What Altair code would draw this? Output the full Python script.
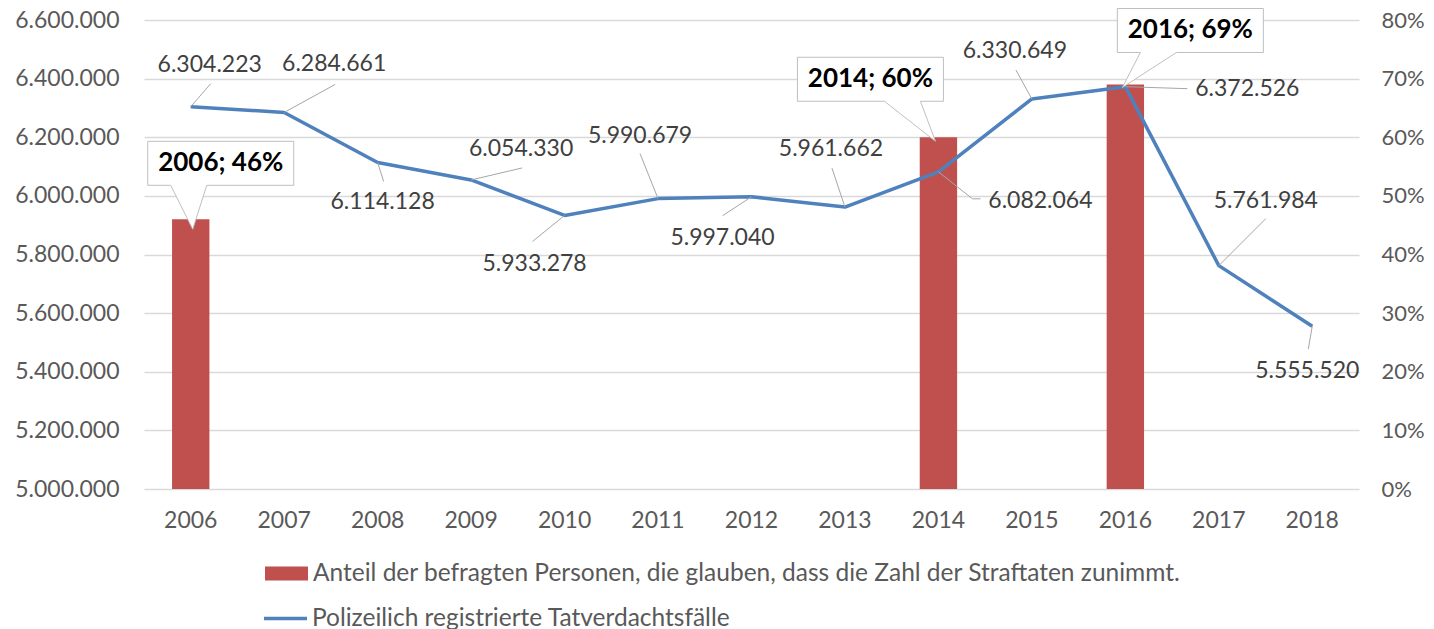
import altair as alt
import pandas as pd

# ---------------- data ----------------
years = [2006, 2007, 2008, 2009, 2010, 2011, 2012, 2013, 2014, 2015, 2016, 2017, 2018]
cases = [6304223, 6284661, 6114128, 6054330, 5933278, 5990679, 5997040,
         5961662, 6082064, 6330649, 6372526, 5761984, 5555520]
survey_years = [2006, 2014, 2016]
survey_share = [0.46, 0.60, 0.69]
bar_name = "Anteil der befragten Personen, die glauben, dass die Zahl der Straftaten zunimmt."
line_name = "Polizeilich registrierte Tatverdachtsfälle"

# ---------------- layout (pixel offsets of the callouts) ----------------
label_dx = [19, 50, 5, 50, -30, -18, -29, -14, 102, -17, 122, 47, -5]
label_dy = [-42, -48, 40, -31, 49, -63, 41, -58, 29, -48, 2, -65, 45]
leader_paths = ["M0,0L20,-23", "M0,0L51,-28", "M0,0L6,19", "M0,0L51,-12",
                "M0,0L-32,26", "M0,0L-18,-45", "M0,0L-29,19", "M0,0L-13,-39",
                "M0,0L34,27L42,27", "M0,0L-16,-29", "M0,0L62,2", "M0,0L47,-47",
                "M0,0L-4,23"]
tip_dx = [2, -3, -3]
tip_dy = [10, 4, 3]
box_dx = [28, -65, 68]
box_dy = [-66, -62, -57]
BOX_W, BOX_H = 146, 44

FONT = "Lato"
AXIS_GRAY = "#595959"
LABEL_GRAY = "#404040"
BAR_RED = "#C0504D"
LINE_BLUE = "#4F81BD"


def callout_path(tx, ty, bx, by, w, h):
    l, r, t, b = tx + bx - w / 2, tx + bx + w / 2, ty + by - h / 2, ty + by + h / 2
    wc = tx + (bx - 32 if bx > 0 else bx + 32)
    wl, wr = wc - 18, wc + 18
    return f"M{l},{t}H{r}V{b}H{wr}L{tx},{ty}L{wl},{b}H{l}Z"


line_df = pd.DataFrame({
    "year": years,
    "cases": cases,
    "series": line_name,
    "dx": label_dx,
    "dy": label_dy,
    "leader": leader_paths,
})
bar_df = pd.DataFrame({
    "year": survey_years,
    "share": survey_share,
    "series": bar_name,
    "box": [callout_path(tip_dx[i], tip_dy[i], box_dx[i], box_dy[i], BOX_W, BOX_H)
            for i in range(len(survey_years))],
    "tdx": [tip_dx[i] + box_dx[i] for i in range(len(survey_years))],
    "tdy": [tip_dy[i] + box_dy[i] for i in range(len(survey_years))],
})

x_enc = alt.X(
    "year:O",
    title=None,
    scale=alt.Scale(domain=years, paddingInner=0.6, paddingOuter=0.3),
    axis=alt.Axis(labelAngle=0, domain=False, ticks=False, labelPadding=20,
                  labelFontSize=23, labelFont=FONT, labelColor=AXIS_GRAY),
)

share_scale = alt.Scale(domain=[0, 0.8], nice=False)
cases_scale = alt.Scale(domain=[5000000, 6600000], nice=False, zero=False)

bars = alt.Chart(bar_df).mark_bar().encode(
    x=x_enc,
    y=alt.Y("share:Q", scale=share_scale, title=None,
            axis=alt.Axis(orient="right", format="%", values=[i / 10 for i in range(9)],
                          grid=False, domain=False, ticks=False, labelPadding=22,
                          labelFontSize=22, labelFont=FONT, labelColor=AXIS_GRAY)),
    fill=alt.Fill("series:N", scale=alt.Scale(range=[BAR_RED]),
                  legend=alt.Legend(title=None, orient="none", legendX=121, legendY=532,
                                    symbolType="M-1,-0.33H1V0.33H-1Z", symbolSize=1849,
                                    symbolStrokeWidth=0, labelFontSize=24.5, labelFont=FONT,
                                    labelColor=AXIS_GRAY, labelLimit=1500, labelOffset=5)),
)

line = alt.Chart(line_df).mark_line(strokeWidth=3.5, strokeJoin="round").encode(
    x=x_enc,
    y=alt.Y("cases:Q", scale=cases_scale, title=None,
            axis=alt.Axis(orient="left", values=list(range(5000000, 6600001, 200000)),
                          labelExpr="replace(format(datum.value, ','), regexp(',', 'g'), '.')",
                          grid=True, gridColor="#d9d9d9", gridWidth=1.3,
                          domain=False, ticks=False, labelPadding=25,
                          labelFontSize=23, labelFont=FONT, labelColor=AXIS_GRAY)),
    stroke=alt.Stroke("series:N", scale=alt.Scale(range=[LINE_BLUE]),
                      legend=alt.Legend(title=None, orient="none", legendX=118, legendY=575,
                                        symbolType="stroke", symbolSize=1849,
                                        symbolStrokeWidth=3.5, labelFontSize=24.5, labelFont=FONT,
                                        labelColor=AXIS_GRAY, labelLimit=1500, labelOffset=3)),
)

leaders = alt.Chart(line_df).mark_point(
    filled=False, size=4, stroke="#a6a6a6", strokeWidth=1, opacity=1
).encode(
    x=x_enc,
    y=alt.Y("cases:Q", scale=cases_scale, axis=None),
    shape=alt.Shape("leader:N", scale=None),
)

line_labels = alt.Chart(line_df).transform_calculate(
    label="replace(format(datum.cases, ','), regexp(',', 'g'), '.')"
).mark_text(
    font=FONT, fontSize=23, color=LABEL_GRAY, align="center", baseline="middle",
    dx=alt.ExprRef(expr="datum.dx"), dy=alt.ExprRef(expr="datum.dy"),
).encode(
    x=x_enc,
    y=alt.Y("cases:Q", scale=cases_scale, axis=None),
    text="label:N",
)

boxes = alt.Chart(bar_df).mark_point(
    filled=True, size=4, fill="white", stroke="#bfbfbf", strokeWidth=1, opacity=1
).encode(
    x=x_enc,
    y=alt.Y("share:Q", scale=share_scale, axis=None),
    shape=alt.Shape("box:N", scale=None),
)

box_labels = alt.Chart(bar_df).transform_calculate(
    label="datum.year + '; ' + format(datum.share, '.0%')"
).mark_text(
    font=FONT, fontSize=26, fontWeight="bold", color="black", align="center",
    baseline="middle",
    dx=alt.ExprRef(expr="datum.tdx"), dy=alt.ExprRef(expr="datum.tdy"),
).encode(
    x=x_enc,
    y=alt.Y("share:Q", scale=share_scale, axis=None),
    text="label:N",
)

chart = alt.layer(
    bars, line, leaders, line_labels, boxes, box_labels
).resolve_scale(
    y="independent", fill="independent", stroke="independent", shape="independent"
).properties(
    width=1215, height=469,
    autosize=alt.AutoSizeParams(type="none"),
    padding={"left": 136, "top": 12, "right": 67, "bottom": 140},
).configure_view(stroke=None)

chart.save("out.html", embed_options={"renderer": "svg", "actions": False})
